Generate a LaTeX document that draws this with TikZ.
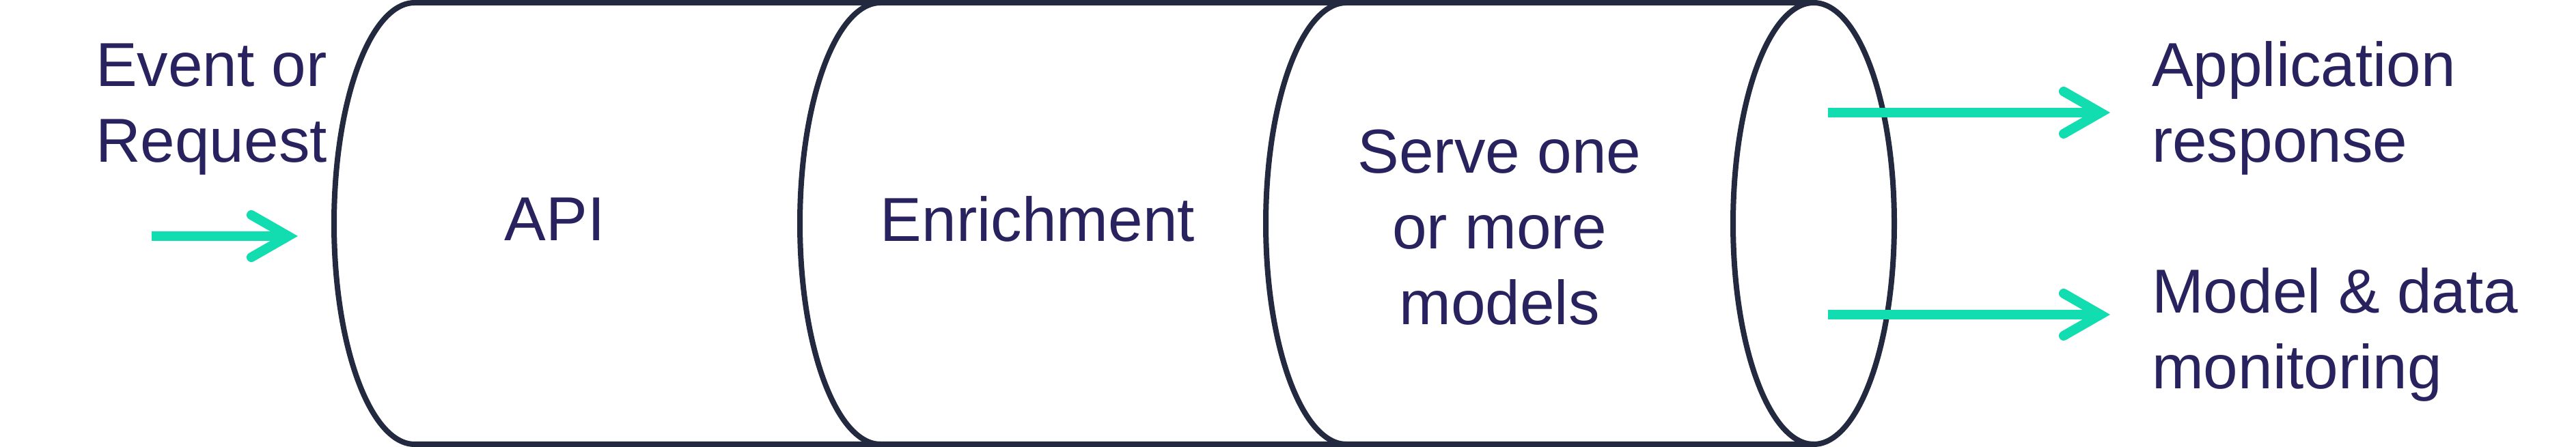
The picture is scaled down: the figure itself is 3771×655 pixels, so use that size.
\documentclass[tikz,border=0pt]{standalone}
\usepackage{fontspec}
\setmainfont{Liberation Sans}
\usetikzlibrary{arrows.meta}
\definecolor{txtnavy}{HTML}{28225E}
\definecolor{teal}{HTML}{12DDB1}
\definecolor{strokedark}{HTML}{232A3F}
\tikzset{
  lbl/.style={text=txtnavy, font=\fontsize{91}{111}\selectfont, inner sep=0pt, outer sep=0pt},
  cyl/.style={draw=strokedark, line width=8pt},
  flow/.style={draw=teal, line width=14pt,
    -{Straight Barb[length=54pt, width=62pt, line cap=round, line join=miter]}},
}
\begin{document}
\begin{tikzpicture}[x=1pt,y=1pt]
\useasboundingbox (0,0) rectangle (3771,655);
% cylinder outline
\draw[cyl] (2655,651) -- (607,651) arc[start angle=90, end angle=270, x radius=118, y radius=323.5] -- (2655,4);
\draw[cyl] (1289,651) arc[start angle=90, end angle=270, x radius=118, y radius=323.5];
\draw[cyl] (1971,651) arc[start angle=90, end angle=270, x radius=118, y radius=323.5];
\draw[cyl] (2655,327.5) ellipse[x radius=118, y radius=323.5];
% labels (base anchor = baseline of the last line)
\node[lbl, anchor=base west, align=left] (evt) at (140,417) {Event or\\Request};
\node[lbl, anchor=base] (api) at (812,302) {API};
\node[lbl, anchor=base] (enr) at (1519,301) {Enrichment};
\node[lbl, anchor=base, align=center] (srv) at (2195,179) {Serve one\\or more\\models};
\node[lbl, anchor=base west, align=left] (app) at (3150,417) {Application\\response};
\node[lbl, anchor=base west, align=left] (mon) at (3150,85) {Model \& data\\monitoring};
% arrows
\coordinate (inA) at (222,309);
\coordinate (inB) at (436,309);
\coordinate (oA1) at (2676,490);
\coordinate (oB1) at (3089,490);
\coordinate (oA2) at (2676,194);
\coordinate (oB2) at (3089,194);
\draw[flow] (inA) -- (inB);
\draw[flow] (oA1) -- (oB1);
\draw[flow] (oA2) -- (oB2);
\end{tikzpicture}
\end{document}
